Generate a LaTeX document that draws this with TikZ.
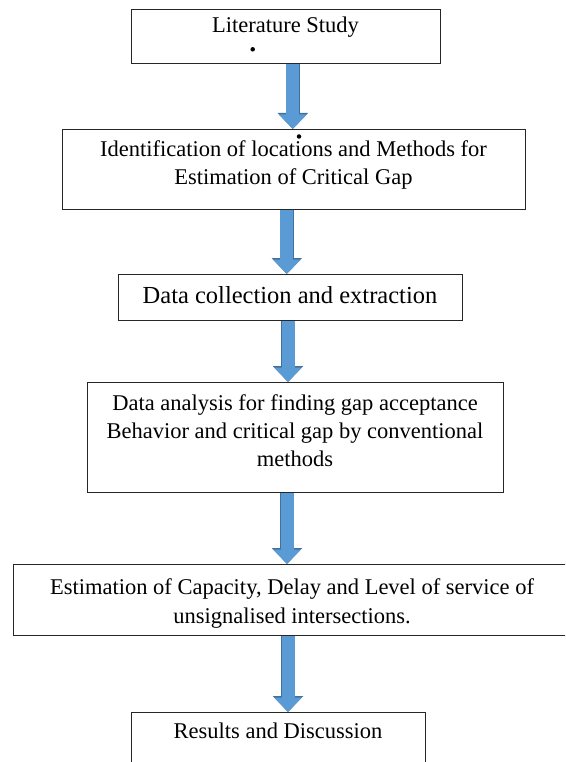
\documentclass[tikz,border=0pt]{standalone}
\usepackage{fontspec}
\setmainfont{Liberation Serif}
\usetikzlibrary{arrows.meta}
\definecolor{flowblue}{HTML}{5B9BD5}
\definecolor{flowedge}{HTML}{41719C}

\begin{document}
\begin{tikzpicture}[
    x=1pt, y=-1pt,
    font=\fontsize{22.5}{28}\selectfont,
    stepbox/.style={draw=black!85, line width=0.9pt, fill=white, align=center,
                    inner sep=0pt, anchor=north},
    fat/.style={line width=13pt, draw=flowblue, -{Triangle[length=14.5pt, width=27pt]},
                preaction={draw=flowedge, line width=14.5pt,
                           -{Triangle[length=16pt, width=29.5pt]}}},
    stray/.style={circle, fill=black, inner sep=0pt, minimum size=4.5pt},
  ]
  \useasboundingbox (0,0) rectangle (565,762);
  \clip (0,0) rectangle (565,762);

  % the six stages, top to bottom (text height is measured to the last line)
  \node[stepbox, minimum width=309pt, text height=22.7pt, text depth=31pt]
    (lit) at (285.5,9.3) {Literature Study};
  \node[stepbox, minimum width=463pt, text height=55.5pt, text depth=24.2pt]
    (ident) at (293.5,129) {Identification of locations and Methods for\\Estimation of Critical Gap};
  \node[stepbox, minimum width=344pt, text height=29pt, text depth=17pt,
        font=\fontsize{24.5}{30}\selectfont]
    (coll) at (290,274) {Data collection and extraction};
  \node[stepbox, minimum width=416pt, text height=84pt, text depth=26pt]
    (anal) at (295,382) {Data analysis for finding gap acceptance\\Behavior and critical gap by conventional\\methods};
  \node[stepbox, minimum width=558pt, text height=59.5pt, text depth=11.5pt,
        font=\fontsize{22.5}{29.5}\selectfont]
    (est) at (292,564) {Estimation of Capacity, Delay and Level of service of\\unsignalised intersections.};
  \node[stepbox, minimum width=294pt, text height=26pt, text depth=70pt]
    (res) at (278,712) {Results and Discussion};

  % arrow axes
  \coordinate (c1) at (292.8,0);
  \coordinate (c2) at (286.8,0);
  \coordinate (c3) at (288,0);
  \coordinate (c4) at (287,0);
  \coordinate (c5) at (288,0);

  \draw[fat] (lit.south -| c1) -- (ident.north -| c1);
  \draw[fat] (ident.south -| c2) -- (coll.north -| c2);
  \draw[fat] (coll.south -| c3) -- (anal.north -| c3);
  \draw[fat] (anal.south -| c4) -- (est.north -| c4);
  \draw[fat] (est.south -| c5) -- (res.north -| c5);

  % stray dots
  \node[stray] (dot1) at (252.7,49.3) {};
  \node[stray] (dot2) at (299,136.5) {};
\end{tikzpicture}
\end{document}
